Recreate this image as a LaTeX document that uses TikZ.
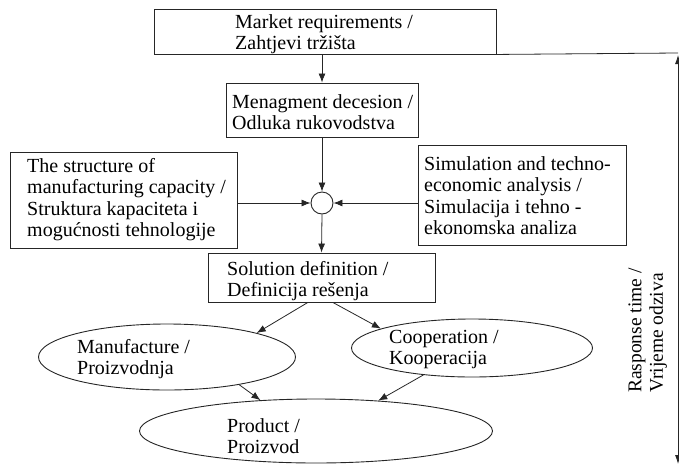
\documentclass[tikz,border=0pt]{standalone}
\usepackage{fontspec}
\setmainfont{Liberation Serif}
\usetikzlibrary{shapes.geometric,arrows.meta,calc}
\begin{document}
\begin{tikzpicture}[x=1pt,y=-1pt,
  box/.style={draw=black!85, line width=0.9pt, rectangle, inner sep=0pt},
  ell/.style={draw=black!85, line width=0.9pt, ellipse, inner sep=0pt},
  txt/.style={anchor=north west, inner sep=0pt, align=left, font=\fontsize{20}{21.5}\selectfont},
  rtxt/.style={anchor=north west, inner sep=0pt, align=left, rotate=90, font=\fontsize{19.5}{21.5}\selectfont},
  conn/.style={line width=0.8pt, draw=black!85, -{Latex[length=9pt,width=7pt]}},
  plain/.style={line width=0.8pt, draw=black!85}]
\useasboundingbox (0,0) rectangle (679,466);

% boxes
\node[box, minimum width=342pt, minimum height=45pt] (market) at (325,31.5) {};
\node[txt] (markett) at (235,12.95) {\strut Market requirements /\\Zahtjevi tržišta};

\node[box, minimum width=192pt, minimum height=54pt] (mgmt) at (322,110) {};
\node[txt] (mgmtt) at (232,92.95) {\strut Menagment decesion /\\Odluka rukovodstva};

\node[box, minimum width=227pt, minimum height=96pt] (leftb) at (123.5,200) {};
\node[txt] (leftt) at (27,156.95) {\strut The structure of\\manufacturing capacity /\\Struktura kapaciteta i\\mogućnosti tehnologije};

\node[box, minimum width=208pt, minimum height=100pt] (rightb) at (522,195) {};
\node[txt] (rightt) at (424,154.95) {\strut Simulation and techno-\\economic analysis /\\Simulacija i tehno -\\ekonomska analiza};

\node[draw=black!85, line width=0.9pt, circle, minimum size=22pt, inner sep=0pt] (circ) at (322,203) {};

\node[box, minimum width=227pt, minimum height=49pt] (sol) at (321.5,277.5) {};
\node[txt] (solt) at (227,259.95) {\strut Solution definition /\\Definicija rešenja};

% ellipses
\node[ell, minimum width=257pt, minimum height=66pt] (manu) at (167,357) {};
\node[txt] (manut) at (77,337.95) {\strut Manufacture /\\Proizvodnja};

\node[ell, minimum width=241pt, minimum height=58pt] (coop) at (472,348) {};
\node[txt] (coopt) at (389,327.95) {\strut Cooperation /\\Kooperacija};

\node[ell, minimum width=353pt, minimum height=64pt] (prod) at (316,431) {};
\node[txt] (prodt) at (227,416.95) {\strut Product /\\Proizvod};

% response time
\node[rtxt] (resp) at (626,393) {\strut Rasponse time /\\Vrijeme odziva};

% connectors
\draw[conn] (mgmt.north |- market.south) -- (mgmt.north);
\draw[conn] (mgmt.south) -- (circ.north);
\draw[conn] (circ.west -| leftb.east) -- (circ.west);
\draw[conn] (circ.east -| rightb.west) -- (circ.east);
\draw[conn] (circ.south) -- (sol.north);

\coordinate (s1) at ($(sol.south west)!0.44!(sol.south east)$);
\coordinate (s2) at ($(sol.south west)!0.55!(sol.south east)$);
\draw[conn] (s1) -- (manu.15);
\draw[conn] (s2) -- (coop.168);
\draw[conn] (manu.-21) -- (prod.151);
\draw[conn] (coop.-151.6) -- (prod.26.6);

\coordinate (rt) at (678,53);
\coordinate (rtop) at (678,55);
\coordinate (rb) at (678,464);
\draw[plain] (market.south east) -- (rt);
\draw[plain, {Latex[length=9pt,width=6pt]}-{Latex[length=9pt,width=6pt]}] (rtop) -- (rb);
\end{tikzpicture}
\end{document}
